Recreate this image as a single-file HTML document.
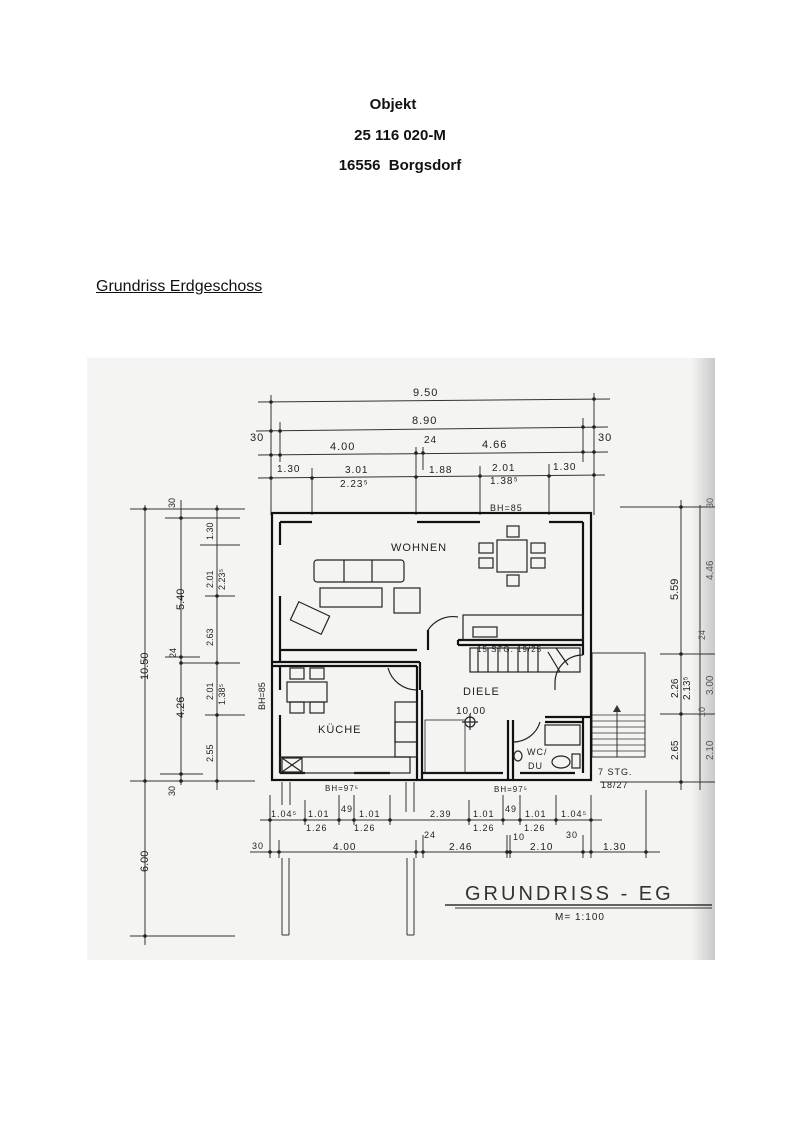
<!DOCTYPE html>
<html><head><meta charset="utf-8"><style>
html,body{margin:0;padding:0;background:#fff;}
body{width:800px;height:1132px;position:relative;overflow:hidden;font-family:"Liberation Sans",sans-serif;}
.t{position:absolute;font-weight:bold;font-size:15px;color:#111;text-align:center;width:800px;left:0;}
</style></head><body>
<div class="t" style="top:96px;left:-7px">Objekt</div>
<div class="t" style="top:127px">25 116 020-M</div>
<div class="t" style="top:157px">16556&nbsp; Borgsdorf</div>
<div style="position:absolute;left:96px;top:278px;font-size:16px;text-decoration:underline;color:#111">Grundriss Erdgeschoss</div>
<svg width="800" height="1132" style="position:absolute;left:0;top:0" xmlns="http://www.w3.org/2000/svg">
<defs><linearGradient id="edge" x1="0" x2="1"><stop offset="0" stop-color="#f3f3f2"/><stop offset="1" stop-color="#c9c9c7"/></linearGradient></defs>
<rect x="87" y="358" width="628" height="602" fill="#f4f4f3"/>
<rect x="692" y="358" width="23" height="602" fill="url(#edge)"/>
<g stroke="#333" stroke-width="1" fill="none">
<!-- top dims -->
<line x1="258" y1="402" x2="610" y2="399"/>
<line x1="256" y1="431" x2="608" y2="427"/>
<line x1="258" y1="455" x2="608" y2="452"/>
<line x1="258" y1="478" x2="605" y2="475"/>
<line x1="271" y1="395" x2="271" y2="515"/><line x1="280" y1="422" x2="280" y2="462"/>
<line x1="312" y1="468" x2="312" y2="515"/><line x1="416" y1="447" x2="416" y2="515"/><line x1="423" y1="447" x2="423" y2="470"/>
<line x1="480" y1="466" x2="480" y2="515"/><line x1="549" y1="464" x2="549" y2="515"/>
<line x1="583" y1="418" x2="583" y2="462"/><line x1="594" y1="393" x2="594" y2="515"/>
<!-- left dims -->
<line x1="145" y1="505" x2="145" y2="945"/><line x1="181" y1="500" x2="181" y2="785"/><line x1="217" y1="505" x2="217" y2="790"/>
<line x1="130" y1="509" x2="245" y2="509"/><line x1="165" y1="518" x2="240" y2="518"/>
<line x1="200" y1="545" x2="240" y2="545"/><line x1="205" y1="596" x2="235" y2="596"/>
<line x1="165" y1="657" x2="200" y2="657"/><line x1="180" y1="663" x2="240" y2="663"/>
<line x1="205" y1="715" x2="245" y2="715"/><line x1="160" y1="774" x2="203" y2="774"/>
<line x1="130" y1="781" x2="255" y2="781"/><line x1="130" y1="936" x2="235" y2="936"/>
<!-- right dims -->
<line x1="681" y1="500" x2="681" y2="790"/><line x1="700" y1="505" x2="700" y2="790"/>
<line x1="620" y1="507" x2="715" y2="507"/><line x1="660" y1="654" x2="715" y2="654"/>
<line x1="660" y1="714" x2="715" y2="714"/><line x1="600" y1="782" x2="715" y2="782"/>
<!-- bottom dims -->
<line x1="260" y1="820" x2="602" y2="820"/><line x1="250" y1="852" x2="660" y2="852"/>
<line x1="270" y1="795" x2="270" y2="858"/><line x1="279" y1="840" x2="279" y2="858"/>
<line x1="305" y1="800" x2="305" y2="825"/><line x1="339" y1="795" x2="339" y2="825"/><line x1="354" y1="795" x2="354" y2="825"/>
<line x1="390" y1="795" x2="390" y2="825"/><line x1="416" y1="840" x2="416" y2="858"/><line x1="423" y1="835" x2="423" y2="858"/>
<line x1="469" y1="800" x2="469" y2="825"/><line x1="503" y1="795" x2="503" y2="825"/><line x1="520" y1="795" x2="520" y2="825"/>
<line x1="507" y1="835" x2="507" y2="858"/><line x1="510" y1="835" x2="510" y2="858"/>
<line x1="556" y1="795" x2="556" y2="825"/><line x1="583" y1="835" x2="583" y2="858"/><line x1="591" y1="795" x2="591" y2="858"/>
<line x1="646" y1="790" x2="646" y2="858"/>
<line x1="282" y1="858" x2="282" y2="935"/><line x1="289" y1="858" x2="289" y2="935"/>
<line x1="407" y1="858" x2="407" y2="935"/><line x1="414" y1="858" x2="414" y2="935"/>
<line x1="282" y1="935" x2="289" y2="935"/><line x1="407" y1="935" x2="414" y2="935"/>
<line x1="282" y1="782" x2="282" y2="805"/><line x1="290" y1="782" x2="290" y2="805"/>
<line x1="406" y1="782" x2="406" y2="812"/><line x1="414" y1="782" x2="414" y2="812"/>
<!-- terrace -->
<rect x="592" y="653" width="53" height="104"/>
<g stroke-width="0.8"><line x1="592" y1="715" x2="645" y2="715"/><line x1="592" y1="721" x2="645" y2="721"/><line x1="592" y1="727" x2="645" y2="727"/><line x1="592" y1="733" x2="645" y2="733"/><line x1="592" y1="739" x2="645" y2="739"/><line x1="592" y1="745" x2="645" y2="745"/><line x1="592" y1="751" x2="645" y2="751"/></g>
<line x1="617" y1="757" x2="617" y2="708"/>
<!-- underline -->
<line x1="445" y1="905" x2="712" y2="905" stroke-width="1.5"/><line x1="455" y1="908" x2="712" y2="908"/>
</g>
<polygon points="617,705 613,712 621,712" fill="#333"/>
<g fill="#222">
<circle cx="271" cy="402" r="1.8"/><circle cx="594" cy="399" r="1.8"/><circle cx="271" cy="431" r="1.8"/><circle cx="280" cy="431" r="1.8"/><circle cx="583" cy="427" r="1.8"/><circle cx="594" cy="427" r="1.8"/>
<circle cx="271" cy="455" r="1.8"/><circle cx="280" cy="455" r="1.8"/><circle cx="416" cy="453" r="1.8"/><circle cx="423" cy="453" r="1.8"/><circle cx="583" cy="452" r="1.8"/><circle cx="594" cy="452" r="1.8"/>
<circle cx="271" cy="478" r="1.8"/><circle cx="312" cy="478" r="1.8"/><circle cx="416" cy="477" r="1.8"/><circle cx="480" cy="476" r="1.8"/><circle cx="549" cy="476" r="1.8"/><circle cx="594" cy="475" r="1.8"/>
<circle cx="145" cy="509" r="1.8"/><circle cx="181" cy="518" r="1.8"/><circle cx="217" cy="509" r="1.8"/><circle cx="217" cy="596" r="1.8"/><circle cx="181" cy="657" r="1.8"/><circle cx="181" cy="663" r="1.8"/><circle cx="217" cy="663" r="1.8"/><circle cx="217" cy="715" r="1.8"/><circle cx="181" cy="774" r="1.8"/><circle cx="145" cy="781" r="1.8"/><circle cx="181" cy="781" r="1.8"/><circle cx="217" cy="781" r="1.8"/><circle cx="145" cy="936" r="1.8"/>
<circle cx="681" cy="507" r="1.8"/><circle cx="681" cy="654" r="1.8"/><circle cx="681" cy="714" r="1.8"/><circle cx="681" cy="782" r="1.8"/>
<circle cx="270" cy="820" r="1.8"/><circle cx="305" cy="820" r="1.8"/><circle cx="339" cy="820" r="1.8"/><circle cx="354" cy="820" r="1.8"/><circle cx="390" cy="820" r="1.8"/><circle cx="469" cy="820" r="1.8"/><circle cx="503" cy="820" r="1.8"/><circle cx="520" cy="820" r="1.8"/><circle cx="556" cy="820" r="1.8"/><circle cx="591" cy="820" r="1.8"/>
<circle cx="270" cy="852" r="1.8"/><circle cx="279" cy="852" r="1.8"/><circle cx="416" cy="852" r="1.8"/><circle cx="423" cy="852" r="1.8"/><circle cx="507" cy="852" r="1.8"/><circle cx="510" cy="852" r="1.8"/><circle cx="583" cy="852" r="1.8"/><circle cx="591" cy="852" r="1.8"/><circle cx="646" cy="852" r="1.8"/>
</g>
<!-- walls -->
<g fill="none" stroke="#111" stroke-width="2.2">
<rect x="272" y="513" width="319" height="267"/>
<path d="M280 522 L312 522 M417 522 L480 522 M549 522 L583 522 M280 522 L280 545 M280 596 L280 662 M280 665 L280 690 M280 715 L280 773 M583 522 L583 655 M583 718 L583 773 M280 773 L305 773 M354 773 L390 773 M423 773 L503 773 M520 773 L575 773"/>
<path d="M272 662 L420 662 M272 666 L417 666 M417 666 L417 690 M420 662 L420 690 M280 650 L417 650"/>
<path d="M417 690 L417 780 M422 690 L422 780"/>
<path d="M458 640 L583 640 M458 645 L583 645 M458 640 L458 645 M428 650 L428 630"/>
<path d="M508 720 L508 780 M513 720 L513 780 M545 717 L591 717 M545 722 L583 722"/>
</g>
<g fill="none" stroke="#222" stroke-width="1.2">
<path d="M428 630 A30 30 0 0 1 458 617"/>
<path d="M417 690 A30 30 0 0 1 388 668"/>
<path d="M583 655 A28 28 0 0 0 555 683 L555 690"/>
<path d="M513 742 A28 28 0 0 0 540 722"/>
<rect x="470" y="648" width="110" height="24"/>
<path d="M478 648 L478 672 M488 648 L488 672 M498 648 L498 672 M508 648 L508 672 M518 648 L518 672 M528 648 L528 672 M538 648 L538 672 M548 652 L560 672 M556 648 L568 665"/>
<rect x="463" y="615" width="120" height="25"/><rect x="473" y="627" width="24" height="10"/>
<rect x="314" y="560" width="90" height="22" rx="3"/><line x1="344" y1="560" x2="344" y2="582"/><line x1="372" y1="560" x2="372" y2="582"/>
<rect x="320" y="588" width="62" height="19"/><rect x="394" y="588" width="26" height="25"/>
<rect x="293" y="608" width="34" height="20" transform="rotate(25 310 618)"/>
<rect x="497" y="540" width="30" height="32"/>
<rect x="507" y="526" width="12" height="11"/><rect x="507" y="575" width="12" height="11"/>
<rect x="479" y="543" width="14" height="10"/><rect x="479" y="558" width="14" height="10"/><rect x="531" y="543" width="14" height="10"/><rect x="531" y="558" width="14" height="10"/>
<rect x="287" y="682" width="40" height="20"/><rect x="290" y="668" width="14" height="11"/><rect x="310" y="668" width="14" height="11"/><rect x="290" y="702" width="14" height="11"/><rect x="310" y="702" width="14" height="11"/>
<rect x="395" y="702" width="22" height="55"/><rect x="395" y="722" width="22" height="20"/>
<rect x="280" y="757" width="130" height="16"/><rect x="282" y="758" width="20" height="14"/><path d="M282 758 L302 772 M302 758 L282 772"/>
<rect x="545" y="725" width="35" height="20"/>
<ellipse cx="561" cy="762" rx="9" ry="6"/><rect x="572" y="754" width="8" height="14"/><ellipse cx="518" cy="756" rx="4" ry="5"/>
<circle cx="470" cy="722" r="5"/><path d="M462 722 L478 722 M470 714 L470 730"/>
<rect x="425" y="720" width="40" height="53" stroke-width="0.8"/>
</g>
<g font-family="Liberation Sans,sans-serif" fill="#222" font-size="11" letter-spacing="1">
<text x="391" y="551">WOHNEN</text><text x="463" y="695">DIELE</text><text x="318" y="733">KÜCHE</text>
<text x="456" y="714" font-size="10">10.00</text><text x="527" y="755" font-size="9">WC/</text><text x="528" y="769" font-size="9">DU</text>
<text x="477" y="652" font-size="8">15 STG. 19/25</text>
<text x="490" y="511" font-size="9">BH=85</text><text x="325" y="791" font-size="8">BH=97⁵</text><text x="494" y="792" font-size="8">BH=97⁵</text>
<text x="598" y="775" font-size="9">7 STG.</text><text x="601" y="788" font-size="9">18/27</text>
<text x="413" y="396">9.50</text><text x="412" y="424">8.90</text><text x="330" y="450">4.00</text><text x="424" y="443" font-size="10">24</text><text x="482" y="448">4.66</text>
<text x="250" y="441">30</text><text x="598" y="441">30</text>
<text x="277" y="472" font-size="10">1.30</text><text x="345" y="473" font-size="10">3.01</text><text x="340" y="487" font-size="10">2.23⁵</text><text x="429" y="473" font-size="10">1.88</text><text x="492" y="471" font-size="10">2.01</text><text x="490" y="484" font-size="10">1.38⁵</text><text x="553" y="470" font-size="10">1.30</text>
<text x="271" y="817" font-size="9">1.04⁵</text><text x="308" y="817" font-size="9">1.01</text><text x="341" y="812" font-size="9">49</text><text x="359" y="817" font-size="9">1.01</text><text x="430" y="817" font-size="9">2.39</text><text x="473" y="817" font-size="9">1.01</text><text x="505" y="812" font-size="9">49</text><text x="525" y="817" font-size="9">1.01</text><text x="561" y="817" font-size="9">1.04⁵</text>
<text x="306" y="831" font-size="9">1.26</text><text x="354" y="831" font-size="9">1.26</text><text x="473" y="831" font-size="9">1.26</text><text x="524" y="831" font-size="9">1.26</text>
<text x="252" y="849" font-size="9">30</text><text x="333" y="850" font-size="10">4.00</text><text x="424" y="838" font-size="9">24</text><text x="449" y="850" font-size="10">2.46</text><text x="513" y="840" font-size="9">10</text><text x="530" y="850" font-size="10">2.10</text><text x="566" y="838" font-size="9">30</text><text x="603" y="850" font-size="10">1.30</text>
<text x="465" y="900" font-size="20" letter-spacing="3" fill="#333">GRUNDRISS - EG</text>
<text x="555" y="920" font-size="10">M= 1:100</text>
</g>
<g font-family="Liberation Sans,sans-serif" fill="#222" font-size="11">
<text transform="translate(148,680) rotate(-90)">10.50</text>
<text transform="translate(148,872) rotate(-90)">6.00</text>
<text transform="translate(184,610) rotate(-90)">5.40</text>
<text transform="translate(184,718) rotate(-90)">4.26</text>
<text transform="translate(176,658) rotate(-90)" font-size="9">24</text>
<text transform="translate(175,508) rotate(-90)" font-size="9">30</text>
<text transform="translate(175,796) rotate(-90)" font-size="9">30</text>
<text transform="translate(213,540) rotate(-90)" font-size="9">1.30</text>
<text transform="translate(213,588) rotate(-90)" font-size="9">2.01</text>
<text transform="translate(225,590) rotate(-90)" font-size="9">2.23⁵</text>
<text transform="translate(213,646) rotate(-90)" font-size="9">2.63</text>
<text transform="translate(213,700) rotate(-90)" font-size="9">2.01</text>
<text transform="translate(225,705) rotate(-90)" font-size="9">1.38⁵</text>
<text transform="translate(213,762) rotate(-90)" font-size="9">2.55</text>
<text transform="translate(265,710) rotate(-90)" font-size="9">BH=85</text>
<text transform="translate(678,600) rotate(-90)" font-size="11">5.59</text>
<text transform="translate(678,698) rotate(-90)" font-size="10">2.26</text>
<text transform="translate(690,700) rotate(-90)" font-size="10">2.13⁵</text>
<text transform="translate(678,760) rotate(-90)" font-size="10">2.65</text>
<text transform="translate(713,580) rotate(-90)" font-size="10" fill="#555">4.46</text>
<text transform="translate(713,695) rotate(-90)" font-size="10" fill="#555">3.00</text>
<text transform="translate(713,760) rotate(-90)" font-size="10" fill="#555">2.10</text>
<text transform="translate(713,508) rotate(-90)" font-size="9" fill="#555">30</text>
<text transform="translate(705,640) rotate(-90)" font-size="9" fill="#555">24</text>
<text transform="translate(705,717) rotate(-90)" font-size="9" fill="#555">10</text>
</g>
</svg>
</body></html>
